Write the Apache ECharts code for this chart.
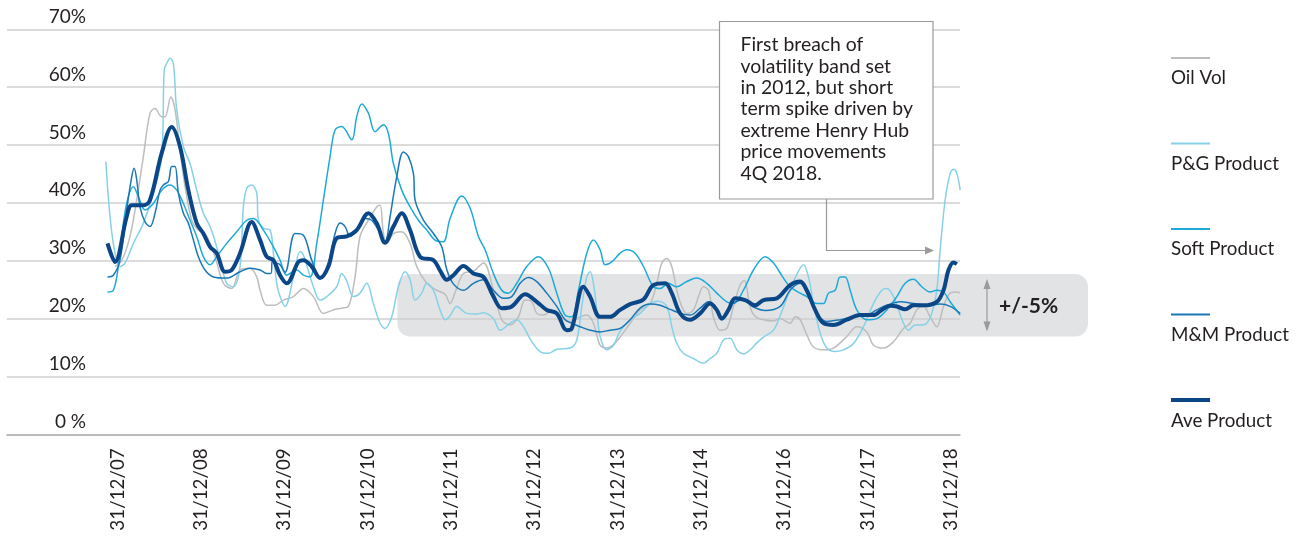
<!DOCTYPE html>
<html>
<head>
<meta charset="utf-8">
<script src="https://cdn.jsdelivr.net/npm/echarts@6/dist/echarts.min.js"></script>
<style>
  html, body { margin: 0; padding: 0; background: #ffffff; }
  #chart { width: 1299px; height: 540px; }
</style>
</head>
<body>
<div id="chart"></div>
<script>
// x positions are expressed in label-index units (0 = "31/12/07", 10 = "31/12/18")
const xLabels = ['31/12/07','31/12/08','31/12/09','31/12/10','31/12/11','31/12/12','31/12/13','31/12/14','31/12/16','31/12/17','31/12/18'];
const yLabels = ['0 %','10%','20%','30%','40%','50%','60%','70%'];
const seriesNames = ['Oil Vol','P&G Product','Soft Product','M&M Product','Ave Product'];

const oilVol = [[-0.03,29.0],[0.05,30.0],[0.15,34.2],[0.23,40.5],[0.31,48.0],[0.39,55.5],[0.45,56.3],[0.53,54.9],[0.57,54.9],[0.64,58.3],[0.69,56.1],[0.75,49.1],[0.81,42.8],[0.89,37.0],[0.95,35.6],[1.07,34.2],[1.17,30.7],[1.27,26.1],[1.37,25.2],[1.47,28.4],[1.59,28.7],[1.67,27.2],[1.71,24.9],[1.79,22.3],[1.89,22.3],[1.99,23.2],[2.11,23.8],[2.23,25.2],[2.35,23.8],[2.47,20.9],[2.59,21.5],[2.69,21.8],[2.77,22.1],[2.85,27.2],[2.91,34.2],[3.01,37.0],[3.11,39.3],[3.15,39.6],[3.19,34.7],[3.23,33.0],[3.31,34.7],[3.41,35.0],[3.51,33.0],[3.59,29.0],[3.71,26.1],[3.83,24.9],[3.93,24.2],[3.99,22.6],[4.05,24.5],[4.15,27.8],[4.27,28.2],[4.39,29.6],[4.51,24.9],[4.61,19.8],[4.71,18.9],[4.81,20.3],[4.89,23.2],[4.97,22.9],[5.03,20.9],[5.11,20.6],[5.19,21.2],[5.31,20.3],[5.43,19.5],[5.55,20.3],[5.63,20.6],[5.71,19.2],[5.79,15.4],[5.87,14.9],[5.95,15.5],[6.03,16.8],[6.15,19.2],[6.27,21.5],[6.39,22.6],[6.47,26.1],[6.53,29.6],[6.59,30.4],[6.65,29.0],[6.71,24.9],[6.77,22.1],[6.83,20.9],[6.91,21.5],[6.97,23.8],[7.03,25.5],[7.09,24.9],[7.15,20.3],[7.23,18.0],[7.31,18.3],[7.39,22.1],[7.47,25.8],[7.52,26.6],[7.59,22.0],[7.65,20.4],[7.75,19.8],[7.87,19.6],[7.95,20.0],[8.07,19.2],[8.13,20.3],[8.19,19.8],[8.27,17.2],[8.35,15.1],[8.47,14.6],[8.59,14.9],[8.75,16.9],[8.87,18.6],[8.99,17.7],[9.07,15.4],[9.19,14.9],[9.31,16.0],[9.43,18.3],[9.51,19.2],[9.59,21.5],[9.67,22.1],[9.75,20.3],[9.83,18.6],[9.91,22.1],[9.99,24.4],[10.07,24.6],[10.11,24.4]];

const pgProduct = [[-0.14,47.1],[-0.09,37.6],[-0.03,31.3],[0.03,29.0],[0.09,29.6],[0.19,33.0],[0.31,36.5],[0.43,41.7],[0.53,48.0],[0.56,63.0],[0.59,64.1],[0.63,65.0],[0.67,64.1],[0.71,56.1],[0.79,49.7],[0.87,46.8],[0.95,42.2],[1.03,38.2],[1.11,35.9],[1.19,32.4],[1.25,29.0],[1.31,26.1],[1.39,25.5],[1.47,29.0],[1.51,39.3],[1.55,42.5],[1.61,43.1],[1.67,41.7],[1.69,37.0],[1.75,35.6],[1.83,35.3],[1.87,31.3],[1.91,26.1],[1.95,23.8],[2.01,22.1],[2.11,27.2],[2.19,31.6],[2.23,31.0],[2.35,25.5],[2.43,23.2],[2.51,23.8],[2.63,25.5],[2.69,27.8],[2.75,26.5],[2.83,23.8],[2.91,24.4],[2.99,26.1],[3.07,22.6],[3.15,19.2],[3.21,18.3],[3.29,20.3],[3.37,25.5],[3.45,28.1],[3.51,26.7],[3.57,23.2],[3.65,24.4],[3.71,26.1],[3.79,24.9],[3.87,21.5],[3.93,19.8],[3.99,20.5],[4.07,22.1],[4.19,20.9],[4.31,20.8],[4.39,21.0],[4.51,20.0],[4.59,18.0],[4.71,19.2],[4.79,19.8],[4.87,18.6],[4.97,16.0],[5.07,14.3],[5.17,14.0],[5.27,14.7],[5.43,14.9],[5.51,16.3],[5.57,22.1],[5.63,27.2],[5.67,28.1],[5.71,26.1],[5.75,21.5],[5.79,16.9],[5.87,14.6],[5.95,15.4],[6.03,17.8],[6.15,19.8],[6.27,20.9],[6.39,22.6],[6.49,23.0],[6.59,22.1],[6.65,18.6],[6.71,15.7],[6.79,14.0],[6.91,13.1],[7.03,12.3],[7.11,13.1],[7.19,14.0],[7.27,16.3],[7.35,16.6],[7.43,14.6],[7.51,13.9],[7.59,14.6],[7.67,15.8],[7.75,16.8],[7.87,18.0],[7.95,20.5],[8.03,23.5],[8.13,27.0],[8.23,29.3],[8.29,27.2],[8.35,22.6],[8.43,17.5],[8.51,14.9],[8.61,14.3],[8.71,14.6],[8.83,15.7],[8.95,18.6],[9.07,22.6],[9.17,24.9],[9.23,25.2],[9.31,23.8],[9.43,19.2],[9.49,18.0],[9.57,18.9],[9.65,18.9],[9.71,19.2],[9.77,20.9],[9.83,24.9],[9.87,31.9],[9.93,40.5],[9.99,45.1],[10.03,45.8],[10.07,45.1],[10.11,42.2]];

const softProduct = [[-0.12,24.6],[-0.05,24.9],[0.01,29.0],[0.07,36.5],[0.13,41.1],[0.19,42.8],[0.25,41.1],[0.33,38.8],[0.43,39.9],[0.53,42.2],[0.63,43.1],[0.71,42.2],[0.79,39.9],[0.87,37.0],[0.95,34.2],[1.03,30.7],[1.11,29.3],[1.19,30.7],[1.31,33.0],[1.43,35.0],[1.55,37.0],[1.63,37.3],[1.75,35.3],[1.87,32.4],[1.95,30.1],[2.03,27.5],[2.15,28.4],[2.23,27.5],[2.31,27.2],[2.39,33.0],[2.47,40.5],[2.55,48.0],[2.61,52.6],[2.69,53.2],[2.81,50.9],[2.87,54.9],[2.93,57.1],[3.01,55.5],[3.09,52.3],[3.19,53.5],[3.25,52.0],[3.31,46.8],[3.41,42.2],[3.51,39.3],[3.61,37.0],[3.71,35.3],[3.83,33.4],[3.91,33.3],[3.99,37.3],[4.13,41.2],[4.23,39.1],[4.33,34.2],[4.41,31.9],[4.51,27.8],[4.61,24.9],[4.69,24.4],[4.79,26.1],[4.91,29.0],[5.05,30.7],[5.17,28.7],[5.27,24.4],[5.37,20.6],[5.45,20.3],[5.53,24.9],[5.63,31.3],[5.71,33.6],[5.79,31.9],[5.85,29.3],[5.93,29.8],[6.03,31.3],[6.11,31.9],[6.21,31.3],[6.31,29.0],[6.43,25.5],[6.51,25.2],[6.61,26.1],[6.71,25.5],[6.83,26.4],[6.95,27.0],[7.07,26.1],[7.19,24.4],[7.31,22.9],[7.39,22.6],[7.51,24.9],[7.63,28.4],[7.77,30.7],[7.87,29.6],[7.99,27.0],[8.07,25.5],[8.19,24.4],[8.27,23.8],[8.39,22.6],[8.47,22.6],[8.53,24.4],[8.61,24.9],[8.67,27.2],[8.73,27.2],[8.79,24.9],[8.87,21.5],[8.99,19.8],[9.11,20.0],[9.23,21.5],[9.35,23.8],[9.45,26.1],[9.55,26.8],[9.65,25.5],[9.75,24.6],[9.83,24.9],[9.91,24.6],[9.99,22.9],[10.11,20.6]];

const mmProduct = [[-0.12,27.2],[-0.05,27.5],[0.03,30.1],[0.11,38.8],[0.17,44.5],[0.20,46.0],[0.23,44.0],[0.27,39.3],[0.33,36.7],[0.39,35.9],[0.45,38.2],[0.51,42.2],[0.55,43.1],[0.61,43.7],[0.65,46.3],[0.69,46.3],[0.73,41.7],[0.79,38.2],[0.85,36.5],[0.91,33.6],[0.97,30.7],[1.05,28.4],[1.15,27.2],[1.31,27.0],[1.47,28.1],[1.59,28.7],[1.71,28.4],[1.79,27.8],[1.84,27.8],[1.86,30.1],[1.91,29.6],[1.95,29.3],[2.01,28.0],[2.13,34.7],[2.23,34.4],[2.33,30.1],[2.43,27.2],[2.53,29.6],[2.61,34.7],[2.67,36.5],[2.73,35.9],[2.79,34.2],[2.87,35.3],[2.97,37.3],[3.05,37.0],[3.13,35.3],[3.21,33.3],[3.27,37.6],[3.35,44.5],[3.43,48.8],[3.49,48.0],[3.55,45.1],[3.57,40.5],[3.67,37.0],[3.79,34.7],[3.89,32.4],[3.95,28.5],[4.03,26.0],[4.15,24.9],[4.27,26.1],[4.39,26.7],[4.51,24.9],[4.63,23.5],[4.73,23.8],[4.83,26.1],[4.93,27.1],[5.03,26.4],[5.15,24.4],[5.27,22.1],[5.37,19.8],[5.45,19.2],[5.55,18.6],[5.67,18.0],[5.79,17.7],[5.91,18.0],[6.03,18.3],[6.15,19.8],[6.27,21.8],[6.39,22.5],[6.51,22.3],[6.63,21.6],[6.75,20.9],[6.87,20.6],[6.99,21.8],[7.09,22.9],[7.17,22.1],[7.25,19.8],[7.35,22.3],[7.43,23.0],[7.51,23.2],[7.63,22.0],[7.77,21.4],[7.95,22.1],[8.07,24.9],[8.19,26.1],[8.27,24.4],[8.39,20.9],[8.51,19.5],[8.67,19.8],[8.83,20.3],[8.99,20.6],[9.11,21.5],[9.23,22.3],[9.39,22.9],[9.55,22.6],[9.71,22.3],[9.87,22.5],[9.99,22.1],[10.11,20.9]];

const aveProduct = [[-0.12,33.0],[-0.03,29.8],[0.11,37.6],[0.17,39.6],[0.31,39.6],[0.39,40.5],[0.53,48.6],[0.65,53.1],[0.75,49.7],[0.85,42.2],[0.95,36.5],[1.03,34.7],[1.11,32.4],[1.19,31.3],[1.29,28.1],[1.37,28.4],[1.47,31.3],[1.61,36.7],[1.71,33.6],[1.79,30.7],[1.87,30.1],[1.95,27.5],[2.03,26.1],[2.17,29.8],[2.23,30.1],[2.33,29.0],[2.43,27.0],[2.53,29.0],[2.63,33.9],[2.75,34.2],[2.87,35.3],[3.01,38.2],[3.11,36.5],[3.21,33.1],[3.31,35.9],[3.41,38.2],[3.51,35.3],[3.63,30.7],[3.79,30.1],[3.87,28.3],[3.95,26.7],[4.03,27.5],[4.15,29.1],[4.27,27.8],[4.39,27.2],[4.51,23.8],[4.61,21.8],[4.73,22.1],[4.89,24.2],[5.03,22.9],[5.15,21.5],[5.27,20.9],[5.39,18.0],[5.45,18.3],[5.59,25.5],[5.67,23.8],[5.79,20.3],[5.91,20.3],[6.03,21.5],[6.15,22.5],[6.31,23.3],[6.43,25.8],[6.57,26.1],[6.65,24.4],[6.75,20.9],[6.87,19.8],[6.99,20.9],[7.11,22.6],[7.19,21.5],[7.25,20.0],[7.33,21.5],[7.41,23.5],[7.53,23.2],[7.65,22.3],[7.75,23.2],[7.91,23.5],[8.07,25.8],[8.19,26.4],[8.27,24.9],[8.37,21.5],[8.47,19.2],[8.59,18.9],[8.75,19.8],[8.91,20.6],[9.07,20.6],[9.17,21.5],[9.27,22.2],[9.35,22.1],[9.45,21.6],[9.55,22.3],[9.67,22.3],[9.83,22.9],[9.91,24.9],[9.97,28.4],[10.03,29.7],[10.07,29.4]];

const bandRange = [16.9, 27.7];   // shaded volatility band (values)
const bandStart = 3.357;          // band left edge (x units)
const noteLines = ['First breach of','volatility band set','in 2012, but short','term spike driven by','extreme Henry Hub','price movements','4Q 2018.'];
const bandLabel = '+/-5%';

const FONT = 'Lato, "Noto Sans", "DejaVu Sans", sans-serif';
const TXT = '#231f20';
const colors = ['#bdbdbd', '#86d1e8', '#1eaad8', '#1a78b6', '#0b4686'];
const widths = [1.5, 1.5, 1.5, 1.5, 4];
const datasets = [oilVol, pgProduct, softProduct, mmProduct, aveProduct];

const chart = echarts.init(document.getElementById('chart'), null, { renderer: 'canvas' });

const rich = { t: { fontSize: 18.8, lineHeight: 38, color: TXT, fontFamily: FONT } };
colors.forEach((c, i) => {
  rich['a' + i] = { width: 39, height: widths[i] === 4 ? 4 : 2, lineHeight: widths[i] === 4 ? 4 : 2, backgroundColor: c };
});

chart.setOption({
  animation: false,
  backgroundColor: '#ffffff',
  textStyle: { fontFamily: FONT },
  grid: { left: 7, top: 29.3, width: 953, height: 405 },
  legend: {
    orient: 'vertical',
    left: 1165, top: 52,
    padding: 0,
    itemWidth: 0, itemHeight: 0,
    itemGap: 50,
    selectedMode: false,
    itemStyle: { opacity: 0 },
    lineStyle: { opacity: 0 },
    data: seriesNames,
    formatter: (name) => '{a' + seriesNames.indexOf(name) + '|}\n{t|' + name + '}',
    textStyle: { rich: rich, color: TXT, fontFamily: FONT }
  },
  xAxis: {
    type: 'value',
    min: -1.326, max: 10.108,
    splitLine: { show: false },
    axisTick: { show: false },
    axisLine: { show: true, lineStyle: { color: '#b0b0b0', width: 1.5 } },
    axisLabel: {
      customValues: xLabels.map((_, i) => i),
      formatter: (v) => xLabels[Math.round(v)],
      rotate: 90,
      margin: 14,
      fontSize: 18.8,
      color: TXT,
      fontFamily: FONT
    }
  },
  yAxis: {
    type: 'value',
    min: 0, max: 70, interval: 10,
    axisLine: { show: false },
    axisTick: { show: false },
    splitLine: { show: true, lineStyle: { color: '#cfcfcf', width: 1.5 } },
    axisLabel: {
      inside: true,
      align: 'right',
      margin: 79,
      verticalAlign: 'bottom',
      lineHeight: 25,
      fontSize: 19,
      color: TXT,
      fontFamily: FONT,
      formatter: (v) => yLabels[Math.round(v / 10)]
    }
  },
  series: seriesNames.map((n, i) => ({
    name: n,
    type: 'line',
    data: datasets[i],
    showSymbol: false,
    symbol: 'none',
    smooth: 0.35,
    z: 2 + i,
    color: colors[i],
    lineStyle: { color: colors[i], width: widths[i] },
    emphasis: { disabled: true }
  }))
});

// annotation graphics (band, arrows, note box)
const pTop = chart.convertToPixel({ gridIndex: 0 }, [bandStart, bandRange[1]]);
const pBot = chart.convertToPixel({ gridIndex: 0 }, [bandStart, bandRange[0]]);
const bandX = pTop[0], bandY = pTop[1], bandH = pBot[1] - pTop[1];
const bandRight = 1088;
const midY = bandY + bandH / 2;
const arrowX = 987;
const grey = '#9a9a9a';

chart.setOption({
  graphic: [
    { type: 'rect', z: -10, silent: true,
      shape: { x: bandX, y: bandY, width: bandRight - bandX, height: bandH, r: 13 },
      style: { fill: 'rgba(214,216,219,0.72)' } },
    { type: 'line', z: 50, silent: true,
      shape: { x1: arrowX, y1: bandY + 8, x2: arrowX, y2: bandY + bandH - 8 },
      style: { stroke: grey, lineWidth: 1.2 } },
    { type: 'polygon', z: 50, silent: true,
      shape: { points: [[arrowX - 3.5, bandY + 15], [arrowX, bandY + 5], [arrowX + 3.5, bandY + 15]] },
      style: { fill: grey } },
    { type: 'polygon', z: 50, silent: true,
      shape: { points: [[arrowX - 3.5, bandY + bandH - 15], [arrowX, bandY + bandH - 5], [arrowX + 3.5, bandY + bandH - 15]] },
      style: { fill: grey } },
    { type: 'text', z: 50, silent: true,
      style: { x: 999, y: midY + 1, text: bandLabel, fill: TXT, font: 'bold 21px ' + FONT, verticalAlign: 'middle', textAlign: 'left' } },
    { type: 'rect', z: 60, silent: true,
      shape: { x: 719.5, y: 21.5, width: 213.5, height: 177.5 },
      style: { fill: '#ffffff', stroke: grey, lineWidth: 1.2 } },
    { type: 'text', z: 61, silent: true,
      style: { x: 740.5, y: 34.3, text: noteLines.join('\n'), fill: TXT, font: '19.4px ' + FONT, lineHeight: 21.4, verticalAlign: 'top', textAlign: 'left' } },
    { type: 'polyline', z: 60, silent: true,
      shape: { points: [[826.5, 199], [826.5, 250.5], [926, 250.5]] },
      style: { stroke: grey, lineWidth: 1.2, fill: null } },
    { type: 'polygon', z: 60, silent: true,
      shape: { points: [[925, 246.5], [934, 250.5], [925, 254.5]] },
      style: { fill: grey } }
  ]
});
</script>
</body>
</html>
